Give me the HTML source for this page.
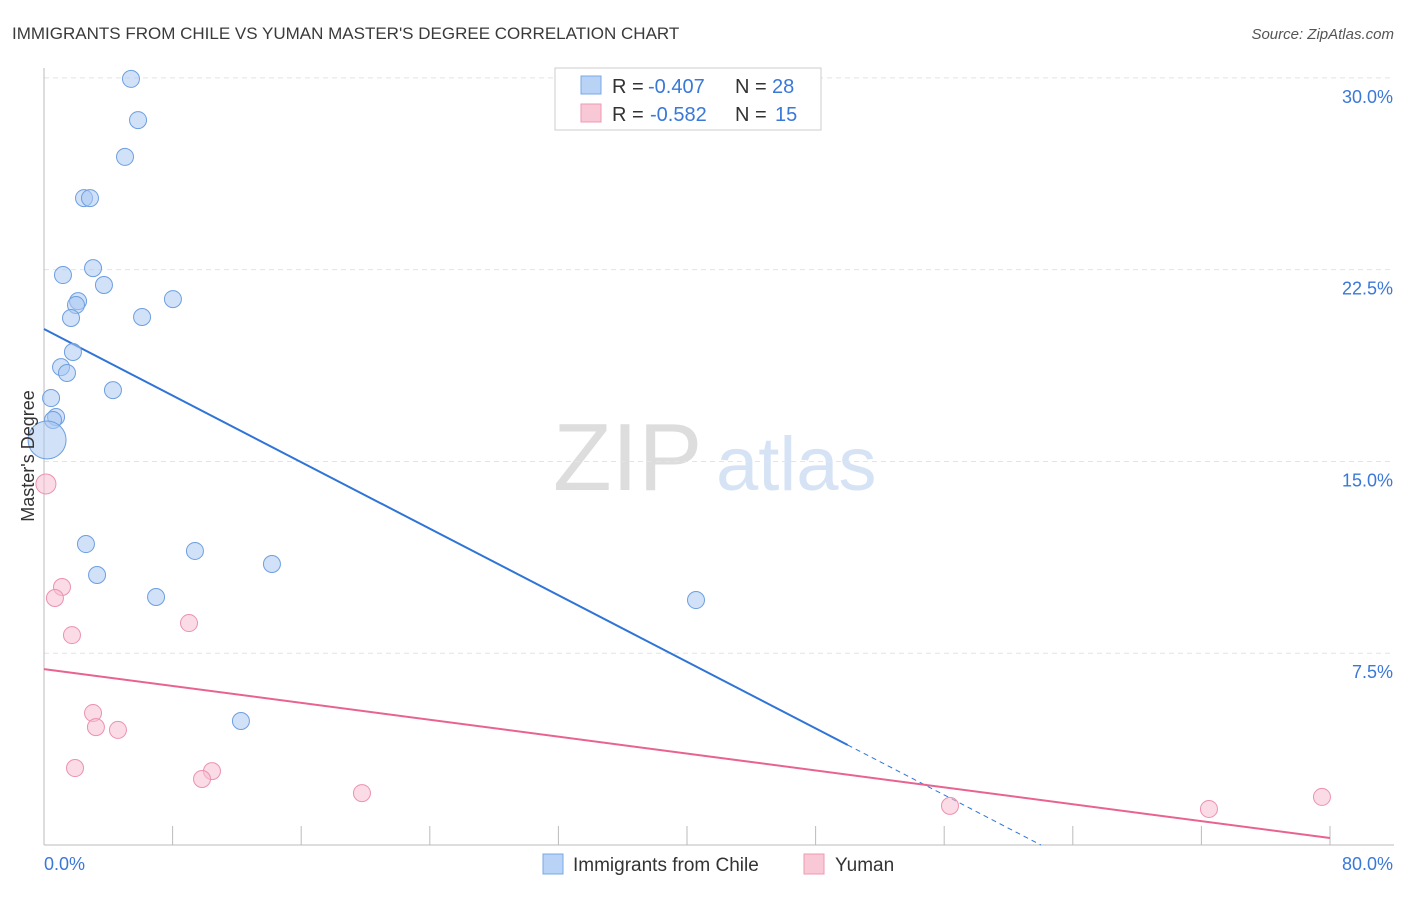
<!DOCTYPE html>
<html><head><meta charset="utf-8"><style>
body{margin:0;background:#fff;font-family:"Liberation Sans",sans-serif;}
svg text{font-family:"Liberation Sans",sans-serif;}
</style></head><body>
<svg id="chart" width="1406" height="892" viewBox="0 0 1406 892" xmlns="http://www.w3.org/2000/svg">
<text x="12" y="39" font-size="17" fill="#3a3a3a">IMMIGRANTS FROM CHILE VS YUMAN MASTER'S DEGREE CORRELATION CHART</text>
<text x="1394" y="39" font-size="15" fill="#555" font-style="italic" text-anchor="end">Source: ZipAtlas.com</text>
<g>
<text x="553" y="490" font-size="96" fill="#ddd" font-family="Liberation Serif, serif">ZIP</text>
<text x="716" y="490" font-size="76" fill="#d6e3f5">atlas</text>
</g>
<g id="grid"></g>
<g id="axes"></g>
<g id="lines"></g>
<g id="points"></g>
<text transform="translate(34,456) rotate(-90)" font-size="18" fill="#333" text-anchor="middle">Master's Degree</text>
<g>
<rect x="555" y="68" width="266" height="62" fill="#fff" stroke="#ccc"/>
<rect x="581" y="76" width="20" height="18" fill="#b8d3f5" stroke="#7aa7e6"/>
<rect x="581" y="104" width="20" height="18" fill="#f9c8d6" stroke="#ee9ab3"/>
<text x="612" y="93" font-size="20" fill="#333">R =</text>
<text x="648" y="93" font-size="20" fill="#3a78d8">-0.407</text>
<text x="735" y="93" font-size="20" fill="#333">N =</text>
<text x="772" y="93" font-size="20" fill="#3a78d8">28</text>
<text x="612" y="121" font-size="20" fill="#333">R =</text>
<text x="650" y="121" font-size="20" fill="#3a78d8">-0.582</text>
<text x="735" y="121" font-size="20" fill="#333">N =</text>
<text x="775" y="121" font-size="20" fill="#3a78d8">15</text>
</g>
<g>
<rect x="543" y="854" width="20" height="20" fill="#b8d3f5" stroke="#7aa7e6"/>
<text x="573" y="871" font-size="19" fill="#333">Immigrants from Chile</text>
<rect x="804" y="854" width="20" height="20" fill="#f9c8d6" stroke="#ee9ab3"/>
<text x="835" y="871" font-size="19" fill="#333">Yuman</text>
</g>
</svg>
<script>
const blueX=[5.41,5.85,5.04,2.49,2.86,1.18,3.05,3.73,2.12,1.99,8.02,1.68,6.10,1.80,1.06,1.43,4.29,0.44,0.75,0.56,0.19,2.61,9.39,3.30,14.18,6.97,40.56,12.25];
const blueY=[29.96,28.35,26.91,25.30,25.30,22.29,22.56,21.90,21.27,21.12,21.35,20.61,20.65,19.28,18.69,18.46,17.79,17.48,16.74,16.62,15.84,11.77,11.50,10.56,10.99,9.70,9.58,4.85];
const pinkX=[0.12,1.12,0.68,1.74,9.02,3.05,3.23,4.60,1.93,10.45,9.83,19.78,56.36,72.47,79.50];
const pinkY=[14.12,10.09,9.66,8.21,8.68,5.16,4.61,4.50,3.01,2.89,2.58,2.03,1.53,1.41,1.88];
const blueTrend=[20.18,-0.3254];
const pinkTrend=[6.88,-0.0826];
const yTicks=[7.5,15,22.5,30];
const yTickLabels=["7.5%","15.0%","22.5%","30.0%"];
const xTicks=[0,8,16,24,32,40,48,56,64,72,80];
const NS="http://www.w3.org/2000/svg";
const sx=v=>44+v*16.075, sy=v=>845-v*25.57;
function mk(tag,attrs,parent){const e=document.createElementNS(NS,tag);for(const k in attrs)e.setAttribute(k,attrs[k]);document.getElementById(parent).appendChild(e);return e;}
yTicks.forEach((t,i)=>{
 const l=mk('line',{x1:44,x2:1394,y1:sy(t),y2:sy(t),stroke:'#e4e4e4','stroke-dasharray':'5,4'},'grid');
 
 
 const tx=mk('text',{x:1393,y:sy(t)+25,'font-size':18,fill:'#3a78d8','text-anchor':'end'},'grid');
 tx.textContent=yTickLabels[i];
 
 
});
const ax=mk('line',{x1:44,x2:44,y1:68,y2:845,stroke:'#bbb'},'axes');


const bx=mk('line',{x1:44,x2:1394,y1:845,y2:845,stroke:'#bbb'},'axes');


xTicks.forEach(t=>{
 const l=mk('line',{x1:sx(t),x2:sx(t),y1:826,y2:845,stroke:'#bbb'},'axes');
 
 
});
const xl0=mk('text',{x:44,y:870,'font-size':18,fill:'#3a78d8'},'axes');xl0.textContent="0.0%";


const xl1=mk('text',{x:1393,y:870,'font-size':18,fill:'#3a78d8','text-anchor':'end'},'axes');xl1.textContent="80.0%";


const bEnd=50, bZero=-blueTrend[0]/blueTrend[1];
const t1=mk('line',{x1:sx(0),y1:sy(blueTrend[0]),x2:sx(bEnd),y2:sy(blueTrend[0]+blueTrend[1]*bEnd),stroke:'#2f74d6','stroke-width':2},'lines');


const t2=mk('line',{x1:sx(bEnd),y1:sy(blueTrend[0]+blueTrend[1]*bEnd),x2:sx(bZero),y2:sy(0),stroke:'#2f74d6','stroke-width':1,'stroke-dasharray':'5,4'},'lines');


const t3=mk('line',{x1:sx(0),y1:sy(pinkTrend[0]),x2:sx(80),y2:sy(pinkTrend[0]+pinkTrend[1]*80),stroke:'#e8638f','stroke-width':2},'lines');


blueX.forEach((x,i)=>{
 const c=mk('circle',{cx:sx(x),cy:sy(blueY[i]),r:i===20?19:8.5,fill:'rgba(170,200,242,0.55)',stroke:'#6e9fe0','stroke-width':1},'points');
 
 
});
pinkX.forEach((x,i)=>{
 const c=mk('circle',{cx:sx(x),cy:sy(pinkY[i]),r:i===0?10:8.5,fill:'rgba(248,190,208,0.55)',stroke:'#ec92ae','stroke-width':1},'points');
 
 
});
</script>
</body></html>
